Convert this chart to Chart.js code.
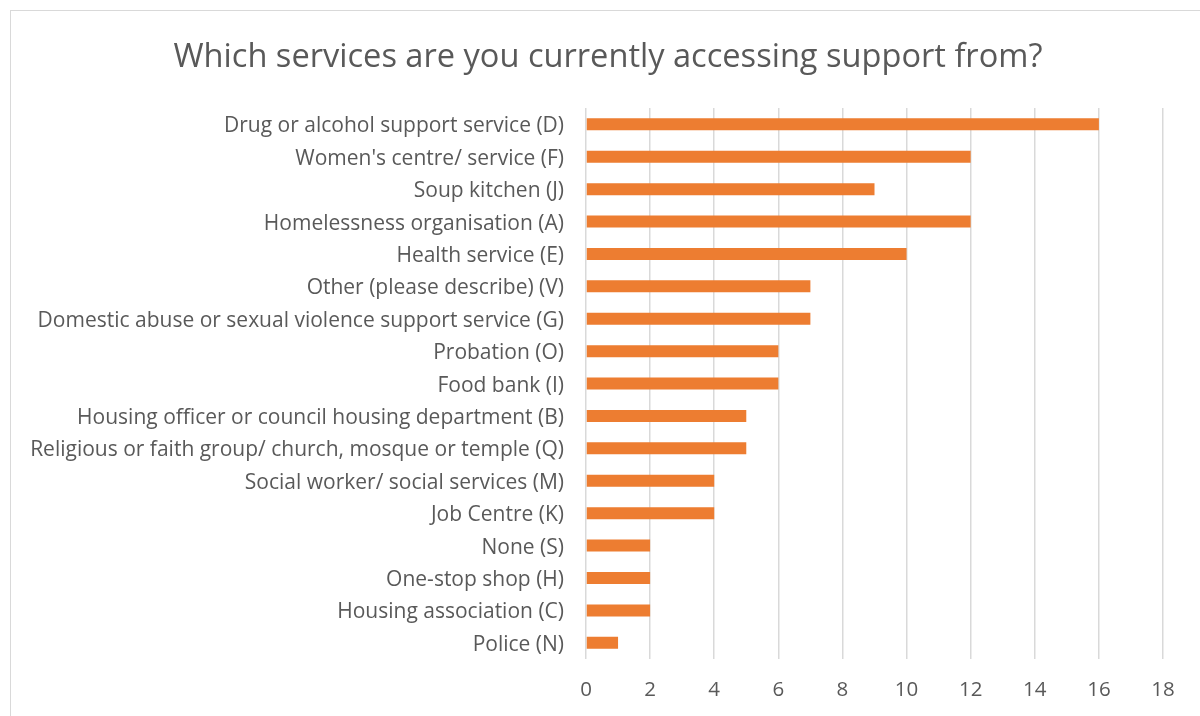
<!DOCTYPE html>
<html>
<head>
<meta charset="utf-8">
<script src="https://cdn.jsdelivr.net/npm/chart.js@4"></script>
<style>
  html, body { margin: 0; padding: 0; background: #fff; overflow: hidden; }
  #wrap { position: relative; width: 1200px; height: 716px; }
  #frame { position: absolute; left: 10px; top: 10px; width: 1200px; height: 720px; border: 1px solid #d9d9d9; pointer-events: none; }
</style>
</head>
<body>
<div id="wrap">
  <canvas id="myChart" width="1200" height="716"></canvas>
  <div id="frame"></div>
</div>
<script>
const services = [
  'Drug or alcohol support service (D)',
  "Women's centre/ service (F)",
  'Soup kitchen (J)',
  'Homelessness organisation (A)',
  'Health service (E)',
  'Other (please describe) (V)',
  'Domestic abuse or sexual violence support service (G)',
  'Probation (O)',
  'Food bank (I)',
  'Housing officer or council housing department (B)',
  'Religious or faith group/ church, mosque or temple (Q)',
  'Social worker/ social services (M)',
  'Job Centre (K)',
  'None (S)',
  'One-stop shop (H)',
  'Housing association (C)',
  'Police (N)'
];
const counts = [16, 12, 9, 12, 10, 7, 7, 6, 6, 5, 5, 4, 4, 2, 2, 2, 1];
const xTicks = [0, 2, 4, 6, 8, 10, 12, 14, 16, 18];

const grey = '#595959';
const font = '"Open Sans", "Liberation Sans", sans-serif';

// centre the title over the frame rather than the whole canvas
const titleShift = {
  id: 'titleShift',
  afterLayout(chart) {
    if (chart.titleBlock) {
      chart.titleBlock.left = 53;
      chart.titleBlock.right = 1163;
    }
  }
};

var ctx = document.getElementById('myChart').getContext('2d');
var myChart = new Chart(ctx, {
  type: 'bar',
  data: {
    labels: services,
    datasets: [{
      data: counts,
      backgroundColor: '#ED7D31',
      barPercentage: 0.37,
      categoryPercentage: 1
    }]
  },
  options: {
    indexAxis: 'y',
    responsive: false,
    animation: false,
    layout: { padding: { left: 16, right: 37, top: 0, bottom: 0 } },
    scales: {
      x: {
        min: 0,
        max: 18,
        afterBuildTicks: (scale) => { scale.ticks = xTicks.map(v => ({ value: v })); },
        grid: { color: '#d9d9d9', lineWidth: 1.5, drawTicks: false },
        border: { display: false },
        ticks: { color: grey, font: { family: font, size: 20.5 }, padding: 19 },
        afterFit: (scale) => { scale.height = 57; }
      },
      y: {
        grid: { display: false, drawTicks: false },
        border: { display: false },
        ticks: { color: grey, font: { family: font, size: 21 }, padding: 22, labelOffset: 2 },
        afterFit: (scale) => { scale.width = 570; }
      }
    },
    plugins: {
      legend: { display: false },
      tooltip: { enabled: false },
      title: {
        display: true,
        text: 'Which services are you currently accessing support from?',
        color: grey,
        font: { family: font, size: 32.6, weight: 'normal' },
        padding: { top: 38, bottom: 31 }
      }
    }
  },
  plugins: [titleShift]
});
</script>
</body>
</html>
